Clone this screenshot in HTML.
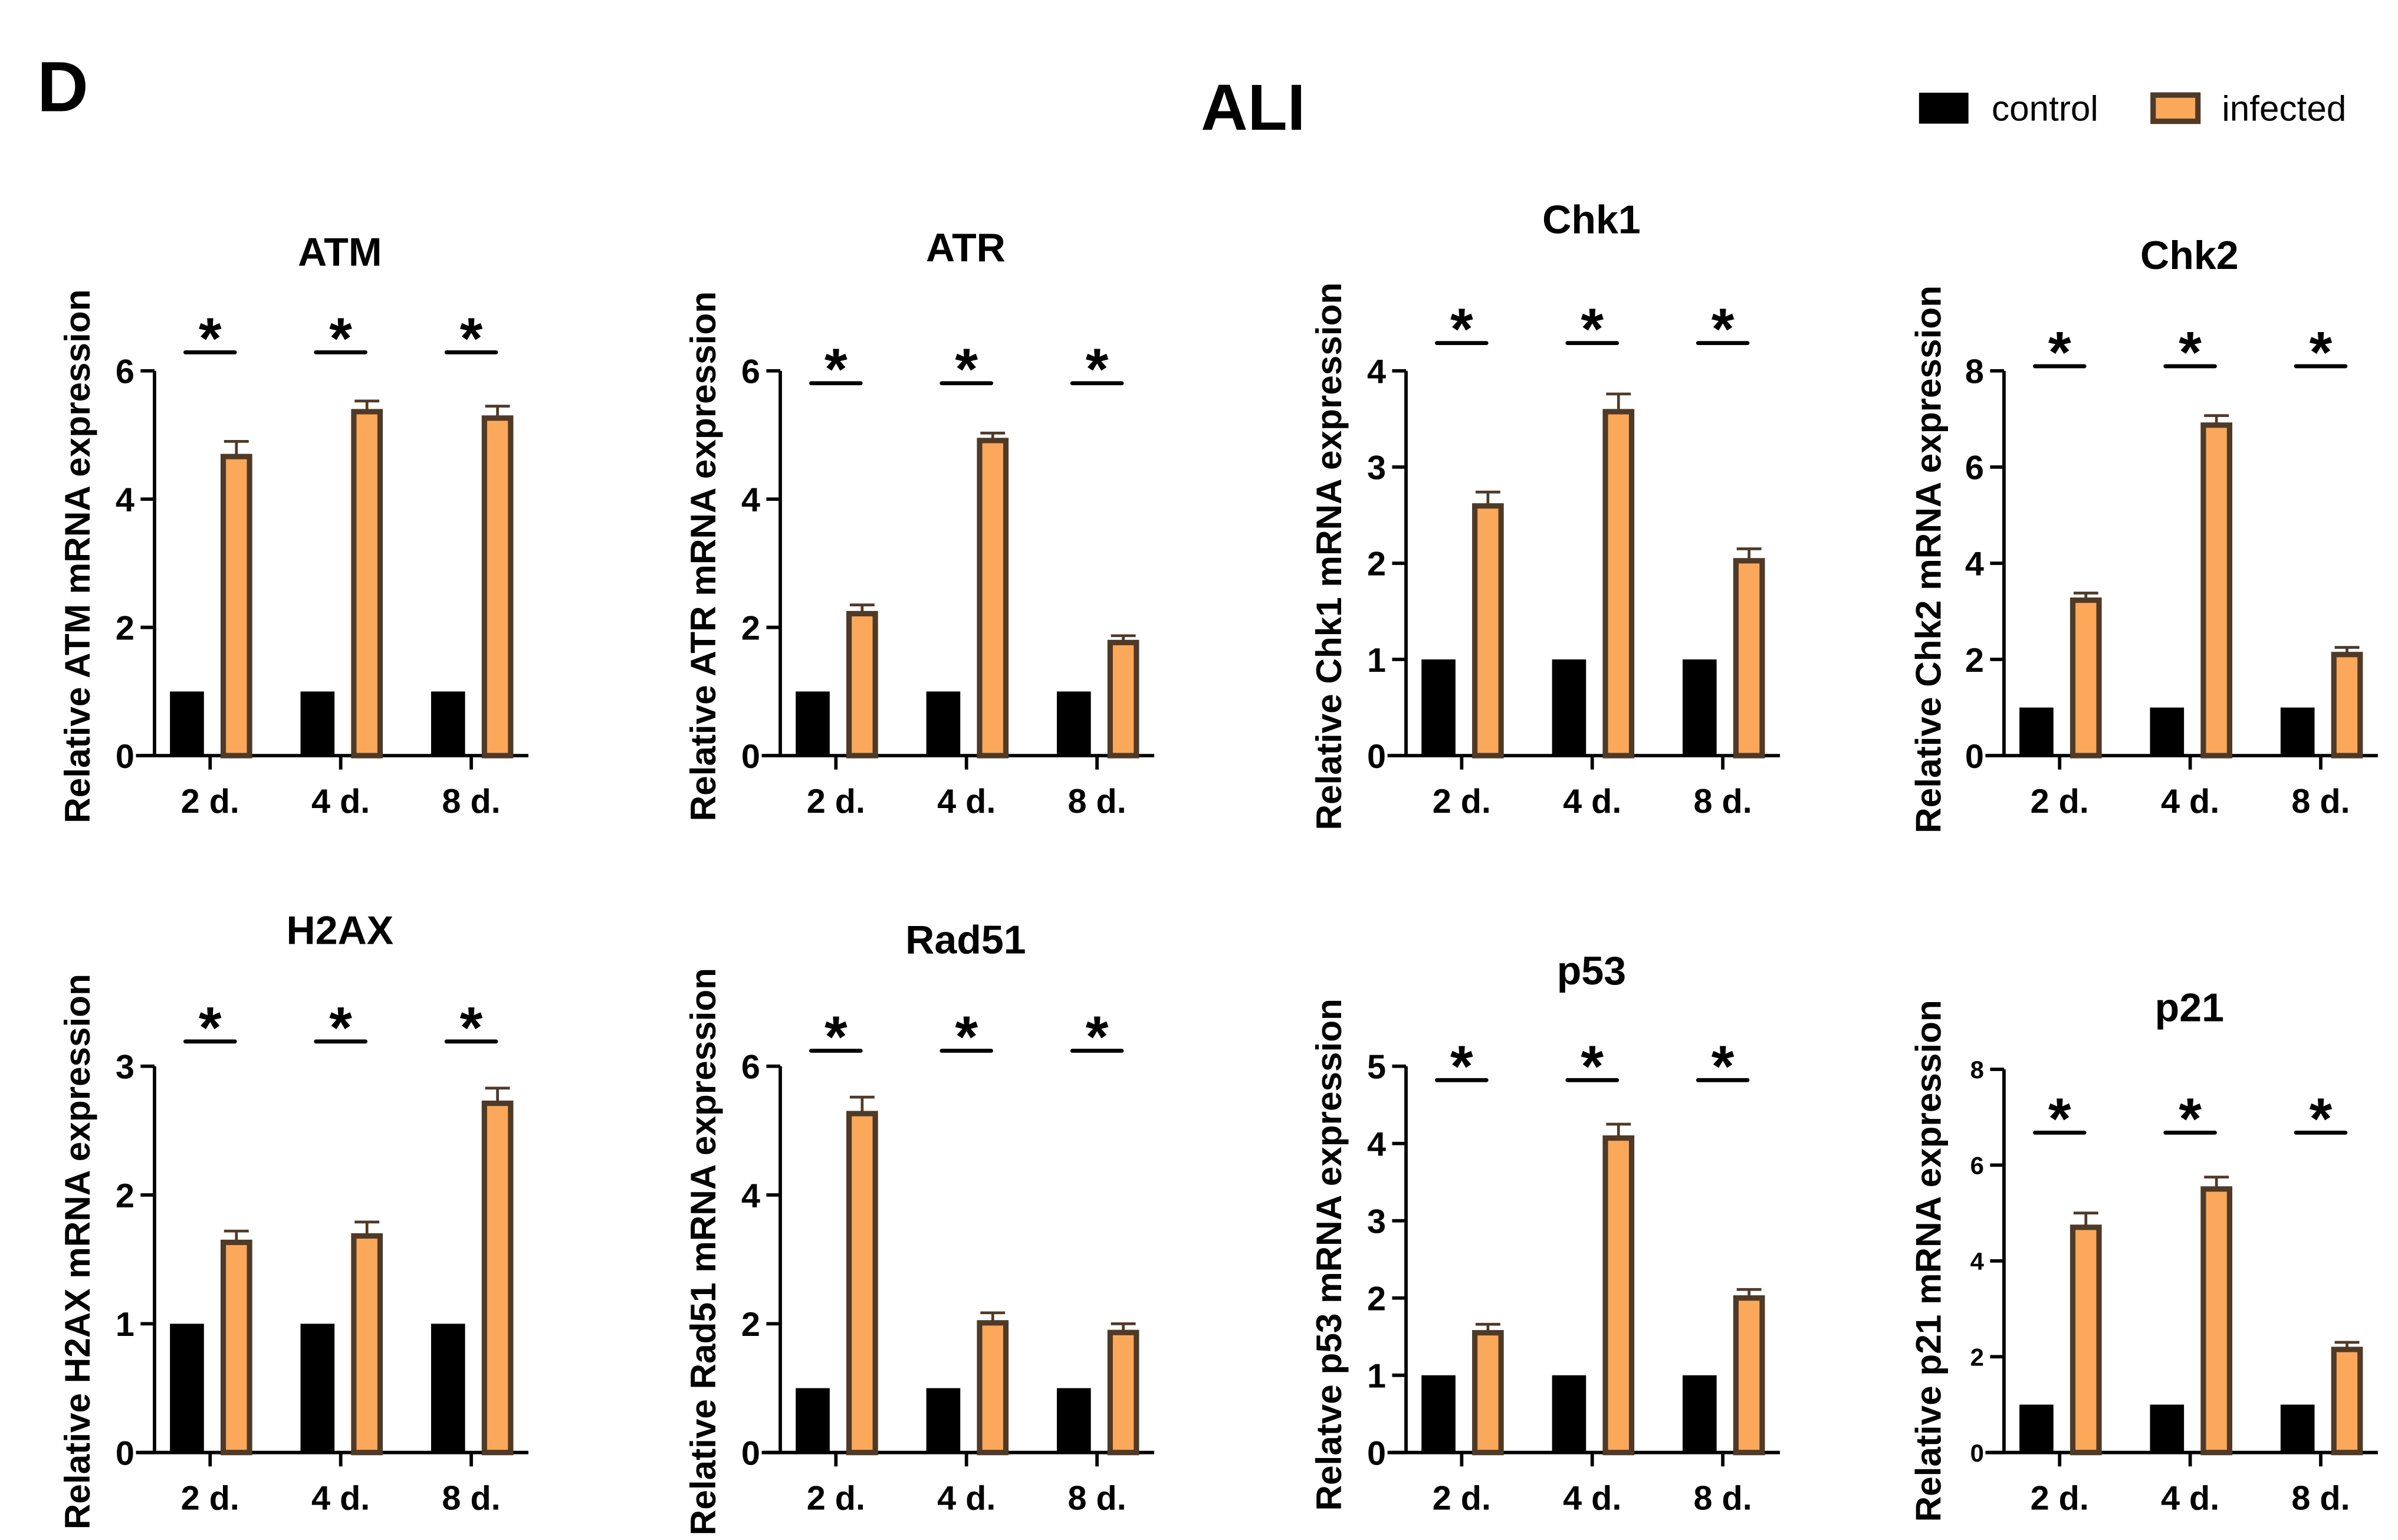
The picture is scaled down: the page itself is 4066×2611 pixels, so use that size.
<!DOCTYPE html>
<html><head><meta charset="utf-8">
<style>
html,body{margin:0;padding:0;background:#fff;}
svg{display:block;}
text{font-family:"Liberation Sans",Arial,sans-serif;font-weight:bold;fill:#000;}
</style></head>
<body>
<svg id="fig" width="4066" height="2611" viewBox="0 0 1552 996.6" xmlns="http://www.w3.org/2000/svg">
<text x="24" y="72" font-size="46">D</text>
<text x="811" y="84" font-size="42" text-anchor="middle">ALI</text>
<g>
<rect x="1242" y="60" width="32" height="20" fill="#000"/>
<text x="1289" y="78" font-size="23" style="font-weight:normal">control</text>
<rect x="1393.5" y="61.5" width="29" height="17" fill="#FBA85A" stroke="#4f3a28" stroke-width="3.5"/>
<text x="1438" y="78" font-size="23" style="font-weight:normal">infected</text>
</g>
<g id="panels"></g>
</svg>
<script>
const genes = ["ATM","ATR","Chk1","Chk2","H2AX","Rad51","p53","p21"];
const categories = ["2 d.","4 d.","8 d."];
const controlValues = [[1,1,1],[1,1,1],[1,1,1],[1,1,1],[1,1,1],[1,1,1],[1,1,1],[1,1,1]];
const infectedValues = [[4.7,5.4,5.3],[2.25,4.95,1.8],[2.62,3.6,2.05],[3.28,6.92,2.15],[1.65,1.7,2.73],[5.3,2.05,1.9],[1.58,4.1,2.03],[4.75,5.55,2.2]];
const infectedErrors = [[0.2,0.13,0.15],[0.1,0.08,0.07],[0.12,0.16,0.1],[0.1,0.15,0.1],[0.07,0.09,0.1],[0.22,0.12,0.1],[0.08,0.15,0.08],[0.25,0.2,0.1]];
const yMax = [6,6,4,8,3,6,5,8];
const yTicks = [[0,2,4,6],[0,2,4,6],[0,1,2,3,4],[0,2,4,6,8],[0,1,2,3],[0,2,4,6],[0,1,2,3,4,5],[0,2,4,6,8]];
const yLabels = ["Relative ATM mRNA expression","Relative ATR mRNA expression","Relative Chk1 mRNA expression","Relative Chk2 mRNA expression","Relative H2AX mRNA expression","Relative Rad51 mRNA expression","Relatve p53 mRNA expression","Relative p21 mRNA expression"];

// layout (not data)
const L = [
 {ax:100,top:240,zero:489,sig:228,title:163,yl:50,ylc:360},
 {ax:505,top:240,zero:489,sig:248,title:160,yl:455,ylc:360},
 {ax:910,top:240,zero:489,sig:222,title:142,yl:860,ylc:360},
 {ax:1297,top:240,zero:489,sig:237,title:165,yl:1248,ylc:362},
 {ax:100,top:690,zero:940,sig:674,title:602,yl:50,ylc:810},
 {ax:505,top:690,zero:940,sig:680,title:608,yl:455,ylc:810},
 {ax:910,top:690,zero:940,sig:699,title:628,yl:860,ylc:812},
 {ax:1297,top:692,zero:940,sig:733,title:652,yl:1248,ylc:816}
];
const NS="http://www.w3.org/2000/svg";
const root=document.getElementById('panels');
function mk(tag,attrs,parent){const e=document.createElementNS(NS,tag);for(const k in attrs)e.setAttribute(k,attrs[k]);parent.appendChild(e);return e;}
genes.forEach((g,i)=>{
 const l=L[i];
 const grp=mk('g',{},root);
 
 
 const y=v=>l.zero-(v/yMax[i])*(l.zero-l.top);
 const x=k=>l.ax+36+k*84.5;
 const t=mk('text',{x:l.ax+120,y:l.title+9,'font-size':26,'text-anchor':'middle'},grp);t.textContent=g;
 
 
 const lx=l.yl+8, cy=l.ylc;
 const yl=mk('text',{x:lx,y:cy,'font-size':23,'text-anchor':'middle',transform:`rotate(-90 ${lx} ${cy})`},grp);yl.textContent=yLabels[i];
 
 
 const ya=mk('line',{x1:l.ax,y1:l.top,x2:l.ax,y2:l.zero+1,stroke:'#000','stroke-width':2.2},grp);
 
 
 const xa=mk('line',{x1:l.ax-12,y1:l.zero,x2:l.ax+242,y2:l.zero,stroke:'#000','stroke-width':2.2},grp);
 
 
 const fs = i===7?16:22;
 yTicks[i].forEach(v=>{
  const tk=mk('line',{x1:l.ax-9,y1:y(v),x2:l.ax,y2:y(v),stroke:'#000','stroke-width':2.2},grp);
  
  
  const tl=mk('text',{x:l.ax-13,y:y(v)+fs*0.36,'font-size':fs,'text-anchor':'end'},grp);tl.textContent=v;
  
  
 });
 categories.forEach((c,k)=>{
  const cx=x(k);
  const xt=mk('line',{x1:cx,y1:l.zero,x2:cx,y2:l.zero+9,stroke:'#000','stroke-width':2.2},grp);
  
  
  const xl=mk('text',{x:cx,y:l.zero+37,'font-size':22,'text-anchor':'middle'},grp);xl.textContent=c;
  
  
  const cv=controlValues[i][k];
  const b1=mk('rect',{x:cx-26,y:y(cv),width:22,height:l.zero-y(cv),fill:'#000'},grp);
  
  
  const iv=infectedValues[i][k], ie=infectedErrors[i][k];
  const e1=mk('line',{x1:cx+17,y1:y(iv),x2:cx+17,y2:y(iv+ie),stroke:'#4f3a28','stroke-width':1.8},grp);
  
  
  const e2=mk('line',{x1:cx+9,y1:y(iv+ie),x2:cx+25,y2:y(iv+ie),stroke:'#4f3a28','stroke-width':1.8},grp);
  
  
  const b2=mk('rect',{x:cx+8.5,y:y(iv)+1.5,width:17,height:l.zero-y(iv)-1.5,fill:'#FBA85A',stroke:'#4f3a28','stroke-width':3.5},grp);
  
  
  const sl=mk('line',{x1:cx-16,y1:l.sig,x2:cx+16,y2:l.sig,stroke:'#000','stroke-width':2.6,'stroke-linecap':'round'},grp);
  
  
  const st=mk('text',{x:cx,y:l.sig+4,'font-size':38,'text-anchor':'middle'},grp);st.textContent='*';
  
  
 });
});
</script>
</body></html>
